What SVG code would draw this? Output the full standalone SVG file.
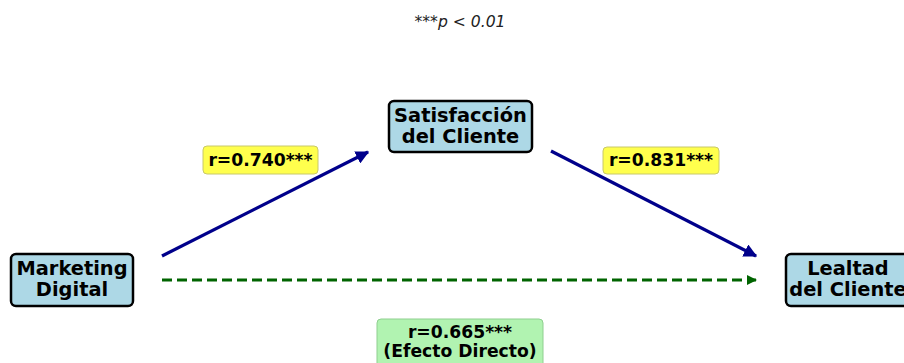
<svg xmlns="http://www.w3.org/2000/svg" width="904" height="363" viewBox="0 0 904 363">
<defs>
<style>
.node{fill:#ADD8E6;stroke:#000;stroke-width:2.5}
.nt{font-family:"DejaVu Sans",sans-serif;font-weight:bold;font-size:19.4px;text-anchor:middle;fill:#000}
.lt{font-family:"DejaVu Sans",sans-serif;font-weight:bold;font-size:17.2px;text-anchor:middle;fill:#000}
.yl{fill:#FFFF4D;stroke:#C8C86A;stroke-width:1}
.gl{fill:#B1F3B1;stroke:#8FCF8F;stroke-width:1}
.blue{stroke:#00008B;stroke-width:3.2;fill:none}
.green{stroke:#006400;stroke-width:2.8;fill:none;stroke-dasharray:10,5}
</style>
<marker id="ab" viewBox="0 0 10 10" refX="9" refY="5" markerWidth="4.2" markerHeight="4.2" markerUnits="strokeWidth" orient="auto"><path d="M0,0 L10,5 L0,10 z" fill="#00008B"/></marker>
<marker id="ag" viewBox="0 0 10 10" refX="9" refY="5" markerWidth="3.6" markerHeight="3.6" markerUnits="strokeWidth" orient="auto"><path d="M0,0 L10,5 L0,10 z" fill="#006400"/></marker>
</defs>
<rect width="904" height="363" fill="#fff"/>
<text x="460" y="27" font-family="DejaVu Sans, sans-serif" font-size="15.6" text-anchor="middle" fill="#222">***<tspan font-style="italic">p &lt; 0.01</tspan></text>
<g id="connectors">
<line class="blue" x1="162" y1="256" x2="368" y2="152" marker-end="url(#ab)"/>
<line class="blue" x1="551" y1="151" x2="756" y2="256" marker-end="url(#ab)"/>
<line class="green" x1="162" y1="280" x2="756" y2="280" marker-end="url(#ag)"/>
<g id="label-a">
<rect class="yl" x="203" y="146" width="115" height="28" rx="4"/>
<text class="lt" x="260.5" y="166">r=0.740***</text>
</g>
<g id="label-b">
<rect class="yl" x="603" y="147" width="116" height="27" rx="4"/>
<text class="lt" x="661" y="166">r=0.831***</text>
</g>
<g id="label-c">
<rect class="gl" x="377" y="319" width="166" height="50" rx="4"/>
<text class="lt" x="460" y="338">r=0.665***</text>
<text class="lt" x="460" y="357">(Efecto Directo)</text>
</g>
</g>
<g id="marketing">
<rect class="node" x="11" y="254" width="122" height="52" rx="5"/>
<text class="nt" x="72" y="275">Marketing</text>
<text class="nt" x="72" y="296">Digital</text>
</g>
<g id="satisfaccion">
<rect class="node" x="389" y="101" width="143" height="51" rx="5"/>
<text class="nt" x="460.5" y="122">Satisfacción</text>
<text class="nt" x="460.5" y="143">del Cliente</text>
</g>
<g id="lealtad">
<rect class="node" x="786" y="254" width="124" height="52" rx="5"/>
<text class="nt" x="848" y="275">Lealtad</text>
<text class="nt" x="848" y="296">del Cliente</text>
</g>
</svg>
